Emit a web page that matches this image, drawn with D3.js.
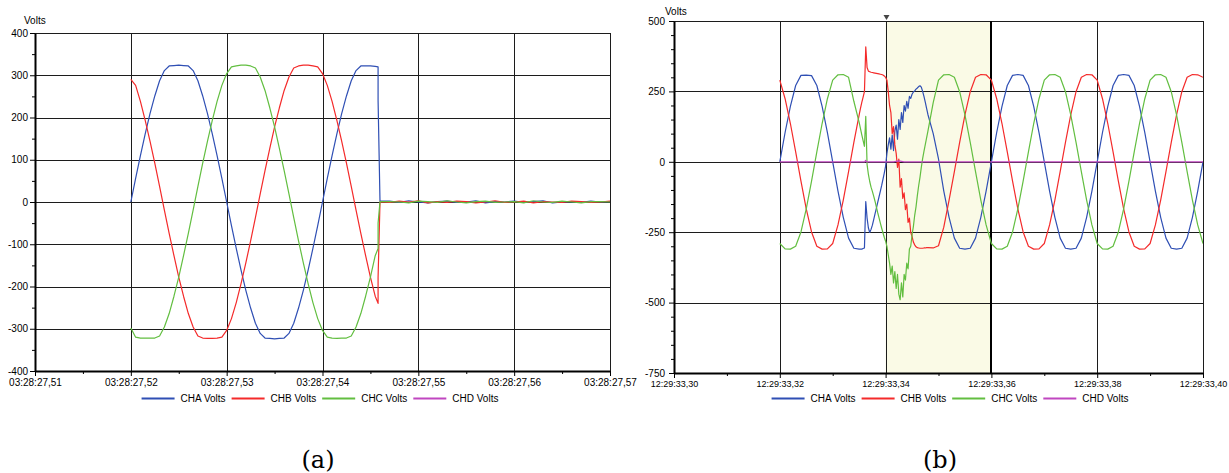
<!DOCTYPE html>
<html><head><meta charset="utf-8">
<script src="https://cdn.jsdelivr.net/npm/d3@7"></script>
<style>
body{margin:0;background:#fff}
svg{display:block}
text{font-family:"Liberation Sans",Arial,sans-serif;fill:#000}
</style>
</head><body>
<svg id="chart" width="1229" height="473"></svg>
<script>
// ---------------- DATA ----------------
const seriesNames = ["CHA Volts", "CHB Volts", "CHC Volts", "CHD Volts"];
const seriesColors = ["#2f4fb4", "#f42a2a", "#62be40", "#c046c0"];

// Panel (a): time in seconds after 03:28:27
const leftXTicks = [0.51, 0.52, 0.53, 0.54, 0.55, 0.56, 0.57];
const leftXLabels = ["03:28:27,51", "03:28:27,52", "03:28:27,53", "03:28:27,54", "03:28:27,55", "03:28:27,56", "03:28:27,57"];
const leftXMinor = [0.515, 0.525, 0.535, 0.545, 0.555, 0.565];
const leftYTicks = [400, 300, 200, 100, 0, -100, -200, -300, -400];
const leftYMinor = [350, 250, 150, 50, -50, -150, -250, -350];

const leftTimes = [
  ...d3.range(52).map(i => 0.52 + i * 0.0005),
  0.5458, 0.5458, 0.5460,
  ...d3.range(24).map(i => 0.547 + i * 0.001)
];
const leftA = [0,56,110,161,209,251,287,311,322,323,324,323,322,311,287,251,209,161,110,56,0,-56,-110,-161,-209,-251,-287,-311,-322,-323,-324,-323,-322,-311,-287,-251,-209,-161,-110,-56,0,56,110,161,209,251,287,311,322,322,322,321,
  320,240,2,
  2,-1,3,0,-2,1,2,-1,0,3,-2,1,0,2,-1,1,3,-2,0,1,-1,2,0,1];
const leftB = [290,276,238,193,144,92,37,-19,-74,-127,-178,-223,-264,-296,-317,-322,-323,-323,-322,-320,-304,-276,-238,-193,-144,-92,-37,19,74,127,178,223,264,296,317,322,324,324,322,320,304,276,238,193,144,92,37,-19,-74,-127,-178,-223,
  -240,-178,0,
  -1,2,0,3,-2,1,-1,2,1,-2,0,3,-1,0,2,-2,1,0,-1,2,1,-1,0,2];
const leftC = [-298,-320,-322,-322,-322,-322,-317,-296,-264,-223,-178,-127,-74,-19,37,92,144,193,238,276,304,320,322,324,324,322,317,296,264,223,178,127,74,19,-37,-92,-144,-193,-238,-276,-304,-320,-322,-323,-322,-322,-317,-296,-264,-223,-178,-127,
  -110,-50,1,
  1,0,-2,2,1,-1,3,0,-2,1,2,-1,0,1,-2,3,0,-1,2,0,-2,1,1,0];

// Panel (b): time in seconds after 12:29:33
const rightXTicks = [0.30, 0.32, 0.34, 0.36, 0.38, 0.40];
const rightXLabels = ["12:29:33,30", "12:29:33,32", "12:29:33,34", "12:29:33,36", "12:29:33,38", "12:29:33,40"];
const rightXMinor = [0.31, 0.33, 0.35, 0.37, 0.39];
const rightYTicks = [500, 250, 0, -250, -500, -750];
const rightYMinor = [450,400,350,300,200,150,100,50,-50,-100,-150,-200,-300,-350,-400,-450,-550,-600,-650,-700];
const rightCursor = [0.34, 0.36];

const rightTimes = [
  ...d3.range(15).map(k => 0.320 + k * 0.001),
  ...d3.range(53).map(j => 0.335 + j * 0.00025),
  ...d3.range(52).map(k => 0.349 + k * 0.001)
];
const rightA = [
  0,104,197,271,307,308,306,271,197,104,0,-104,-197,-271,-307,
  -310,-310,-310,-308,-306,-141,-200,-235,-251,-240,-225,-205,-185,-165,-145,-125,-105,-85,-62,-40,-15,30,60,85,45,95,40,110,130,80,150,115,175,140,200,180,215,190,232,225,240,248,252,258,262,267,270,265,250,232,212,190,168,
  100,10,-104,-197,-271,-307,-310,-307,-271,-197,-104,0,104,197,271,307,310,307,271,197,
  104,0,-104,-197,-271,-307,-310,-307,-271,-197,-104,0,104,197,271,307,310,307,271,197,
  104,0,-104,-197,-271,-307,-310,-307,-271,-197,-104,0];
const rightB = [
  290,224,136,35,-69,-167,-249,-300,-310,-309,-290,-224,-136,-35,69,
  167,190,211,230,249,408,335,322,320,318,317,316,315,314,313,312,311,310,308,305,300,290,250,200,175,100,125,60,30,-20,10,-90,-60,-130,-110,-170,-150,-215,-200,-250,-265,-285,-295,-302,-305,-306,-307,-307,-307,-306,-306,-305,-305,
  -306,-298,-232,-136,-35,69,167,249,300,310,309,290,224,136,35,-69,-167,-249,-300,-310,
  -309,-290,-224,-136,-35,69,167,249,300,310,309,290,224,136,35,-69,-167,-249,-300,-310,
  -309,-290,-224,-136,-35,69,167,249,300,310,309,300];
const rightC = [
  -290,-309,-310,-300,-249,-167,-69,35,136,224,290,309,310,300,215,
  140,118,96,75,55,161,-10,-45,-70,-90,-105,-122,-140,-160,-180,-198,-217,-235,-252,-268,-282,-300,-330,-360,-400,-370,-430,-390,-450,-400,-470,-490,-430,-480,-400,-420,-360,-380,-310,-300,-260,-230,-190,-160,-120,-85,-55,-20,11,37,61,85,109,
  210,290,309,310,300,249,167,69,-35,-136,-224,-290,-309,-310,-300,-249,-167,-69,35,136,
  224,290,309,310,300,249,167,69,-35,-136,-224,-290,-309,-310,-300,-249,-167,-69,35,136,
  224,290,309,310,300,249,167,69,-35,-136,-224,-290];
const rightDTimes = [0.320, 0.3361, 0.3362, 0.3364, 0.3415, 0.3425, 0.3435, 0.400];
const rightD = [0, 0, 5, 0, 0, 3, 0, 0];

const panelLabels = ["(a)", "(b)"];

// ---------------- DRAWING ----------------
const svg = d3.select("#chart");

function drawPanel(cfg, idx) {
  const g = svg.append("g");
  const x = d3.scaleLinear().domain(cfg.xDomain).range([cfg.left, cfg.right]);
  const y = d3.scaleLinear().domain(cfg.yDomain).range([cfg.bottom, cfg.top]);
  const cx = v => Math.round(x(v)) + 0.5;
  const cy = v => Math.round(y(v)) + 0.5;

  if (cfg.cursor) {
    g.append("rect")
      .attr("x", x(cfg.cursor[0])).attr("y", cfg.top)
      .attr("width", x(cfg.cursor[1]) - x(cfg.cursor[0]))
      .attr("height", cfg.bottom - cfg.top)
      .attr("fill", "#fafae6");
  }

  // grid
  g.append("g").selectAll("line").data(cfg.yTicks.filter(d => d !== cfg.yDomain[0])).join("line")
    .attr("x1", cfg.left).attr("x2", cfg.right)
    .attr("y1", d => cy(d)).attr("y2", d => cy(d))
    .attr("stroke", "#1c1c1c").attr("stroke-width", 1);
  g.append("g").selectAll("line").data(cfg.xTicks.filter(d => d !== cfg.xDomain[0])).join("line")
    .attr("x1", d => cx(d)).attr("x2", d => cx(d))
    .attr("y1", cfg.top).attr("y2", cfg.bottom)
    .attr("stroke", "#1c1c1c").attr("stroke-width", 1);
  if (cfg.cursor) {
    g.append("line")
      .attr("x1", Math.round(x(cfg.cursor[1]))).attr("x2", Math.round(x(cfg.cursor[1])))
      .attr("y1", cfg.top).attr("y2", cfg.bottom)
      .attr("stroke", "#000").attr("stroke-width", 2);
    const mx = Math.round(x(cfg.cursor[0])) + 0.5;
    g.append("path")
      .attr("d", `M${mx - 3},${cfg.top - 6} L${mx + 3},${cfg.top - 6} L${mx},${cfg.top - 1} Z`)
      .attr("fill", "#444");
  }

  // series
  const clipId = "clip" + idx;
  svg.append("clipPath").attr("id", clipId).append("rect")
    .attr("x", cfg.left).attr("y", cfg.top - 1)
    .attr("width", cfg.right - cfg.left).attr("height", cfg.bottom - cfg.top + 1);
  const lg = g.append("g").attr("clip-path", `url(#${clipId})`);
  cfg.series.forEach(s => {
    const pts = s.values.map((v, i) => [s.times[i], v]);
    lg.append("path")
      .attr("d", d3.line().x(d => x(d[0])).y(d => y(d[1]))(pts))
      .attr("fill", "none")
      .attr("stroke", seriesColors[s.color])
      .attr("stroke-width", 1.2)
      .attr("stroke-linejoin", "round");
  });

  // axes
  const yAxis = g.append("g").attr("transform", `translate(${cfg.left},0)`)
    .call(d3.axisLeft(y).tickValues(cfg.yTicks).tickSize(5).tickSizeOuter(0)
      .tickPadding(cfg.yPad).tickFormat(d => String(d)));
  g.append("g").attr("transform", `translate(${cfg.left},0)`)
    .call(d3.axisLeft(y).tickValues(cfg.yMinor).tickSize(3).tickFormat(""))
    .select(".domain").remove();
  const xAxis = g.append("g").attr("transform", `translate(0,${cfg.bottom})`)
    .call(d3.axisBottom(x).tickValues(cfg.xTicks).tickSize(5).tickSizeOuter(0)
      .tickPadding(3).tickFormat((d, i) => cfg.xLabels[i]));
  g.append("g").attr("transform", `translate(0,${cfg.bottom})`)
    .call(d3.axisBottom(x).tickValues(cfg.xMinor).tickSize(3).tickFormat(""))
    .select(".domain").remove();
  [yAxis, xAxis].forEach(a => {
    a.select(".domain").attr("stroke", "#000").attr("stroke-width", 2);
    a.selectAll(".tick line").attr("stroke", "#000");
    a.selectAll("text").attr("font-family", '"Liberation Sans", Arial, sans-serif').attr("fill", "#000");
  });
  yAxis.selectAll("text").attr("font-size", 10);
  xAxis.selectAll("text").attr("font-size", cfg.xFont);
  g.selectAll(".tick line").attr("stroke", "#000");

  // unit label
  g.append("text").attr("x", cfg.unitX).attr("y", cfg.unitY)
    .attr("font-size", 10).text("Volts");

  // legend
  const leg = g.append("g");
  let off = 0;
  const items = [];
  seriesNames.forEach((n, i) => {
    const it = leg.append("g").attr("transform", `translate(${off},0)`);
    it.append("line").attr("x1", 0).attr("x2", 33).attr("y1", 0.5).attr("y2", 0.5)
      .attr("stroke", seriesColors[i]).attr("stroke-width", 2);
    const t = it.append("text").attr("x", 39).attr("y", 4).attr("font-size", 10).text(n);
    const w = t.node().getComputedTextLength();
    off += 39 + w + 6;
  });
  const total = off - 6;
  leg.attr("transform", `translate(${cfg.legendCenter - total / 2},${cfg.legendY})`);

  // panel label
  svg.append("text").attr("x", cfg.labelX).attr("y", 468)
    .attr("text-anchor", "middle")
    .style("font-family", '"DejaVu Serif", "Liberation Serif", serif')
    .attr("font-size", 24).text(panelLabels[idx]);
}

drawPanel({
  left: 35, right: 610, top: 33, bottom: 371,
  xDomain: [0.51, 0.57], yDomain: [-400, 400],
  xTicks: leftXTicks, xLabels: leftXLabels, xMinor: leftXMinor,
  yTicks: leftYTicks, yMinor: leftYMinor, yPad: 2, xFont: 10,
  unitX: 24, unitY: 24,
  legendCenter: 320, legendY: 398, labelX: 318,
  series: [
    { times: leftTimes, values: leftA, color: 0 },
    { times: leftTimes, values: leftB, color: 1 },
    { times: leftTimes, values: leftC, color: 2 }
  ]
}, 0);

drawPanel({
  left: 674, right: 1203, top: 21, bottom: 373,
  xDomain: [0.30, 0.40], yDomain: [-750, 500],
  xTicks: rightXTicks, xLabels: rightXLabels, xMinor: rightXMinor,
  yTicks: rightYTicks, yMinor: rightYMinor, yPad: 4, xFont: 9,
  unitX: 665, unitY: 15, cursor: rightCursor,
  legendCenter: 950, legendY: 398, labelX: 940,
  series: [
    { times: rightTimes, values: rightA, color: 0 },
    { times: rightTimes, values: rightB, color: 1 },
    { times: rightTimes, values: rightC, color: 2 },
    { times: rightDTimes, values: rightD, color: 3 }
  ]
}, 1);
</script>
</body></html>
